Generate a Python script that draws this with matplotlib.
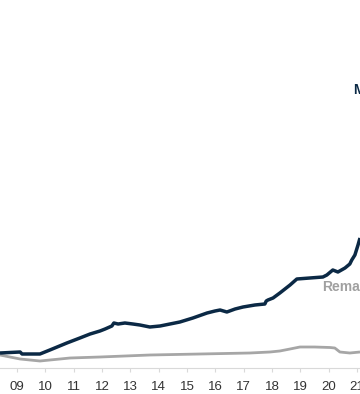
import matplotlib
matplotlib.use("Agg")
import matplotlib.pyplot as plt

plt.rcParams["font.family"] = ["Liberation Sans", "DejaVu Sans"]

# ----------------------------------------------------------------------------
# Data (x in years, y in arbitrary units)
# ----------------------------------------------------------------------------

NAVY_YEARS = [2008.40, 2009.11, 2009.18, 2009.81, 2010.16, 2010.76, 2011.22,
              2011.58, 2011.93, 2012.11, 2012.35, 2012.42, 2012.57, 2012.81,
              2013.09, 2013.34, 2013.69, 2014.05, 2014.40, 2014.75, 2015.21,
              2015.71, 2015.99, 2016.17, 2016.41, 2016.70, 2016.98, 2017.40,
              2017.75, 2017.80, 2017.86, 2018.04, 2018.28, 2018.64, 2018.88,
              2019.34, 2019.80, 2019.94, 2020.15, 2020.33, 2020.58, 2020.75,
              2020.82, 2020.93, 2021.04, 2021.11]
NAVY_VALUES = [1.5, 1.6, 1.4, 1.4, 1.8, 2.5, 3.0,
               3.4, 3.7, 3.9, 4.2, 4.5, 4.4, 4.5,
               4.4, 4.3, 4.1, 4.2, 4.4, 4.6, 5.0,
               5.5, 5.7, 5.8, 5.6, 5.9, 6.1, 6.3,
               6.4, 6.7, 6.8, 7.0, 7.5, 8.3, 8.9,
               9.0, 9.1, 9.3, 9.8, 9.6, 10.0, 10.4,
               10.8, 11.3, 12.3, 13.0]

GRAY_YEARS = [2008.40, 2008.75, 2009.11, 2009.46, 2009.81, 2010.16, 2010.52,
              2010.87, 2011.93, 2013.69, 2015.46, 2017.22, 2017.93, 2018.28,
              2018.64, 2018.99, 2019.50, 2020.05, 2020.22, 2020.40, 2020.75,
              2021.11]
GRAY_VALUES = [1.3, 1.1, 0.9, 0.8, 0.7, 0.8, 0.9,
               1.0, 1.1, 1.3, 1.4, 1.5, 1.6, 1.7,
               1.9, 2.1, 2.1, 2.05, 2.0, 1.6, 1.5,
               1.6]

TICK_YEARS = list(range(2009, 2022))
TICK_LABELS = [f"{y % 100:02d}" for y in TICK_YEARS]

NAVY = "#0b2945"
GRAY = "#a6a6a6"

# ----------------------------------------------------------------------------
# Plot
# ----------------------------------------------------------------------------

fig = plt.figure(figsize=(3.6, 3.94), dpi=100)
ax = fig.add_axes([0, 26 / 394, 1, 1 - 26 / 394])

ax.plot(GRAY_YEARS, GRAY_VALUES, color=GRAY, linewidth=2.0,
        solid_capstyle="butt")
ax.plot(NAVY_YEARS, NAVY_VALUES, color=NAVY, linewidth=2.5,
        solid_capstyle="butt")

ax.text(2020.86, 27.8, "M", color=NAVY, fontsize=10, fontweight="bold",
        ha="left", va="center")
ax.text(2019.77, 8.1, "Rema", color="#a0a0a0", fontsize=10,
        fontweight="bold", ha="left", va="center")

ax.set_xlim(2008.40, 2021.11)
ax.set_ylim(0, 36.8)
ax.set_xticks(TICK_YEARS)
ax.set_xticklabels(TICK_LABELS)
ax.set_yticks([])

for side in ["left", "right", "top"]:
    ax.spines[side].set_visible(False)
ax.spines["bottom"].set_color("#d9d9d9")
ax.spines["bottom"].set_linewidth(0.8)
ax.tick_params(axis="x", length=3, width=0.8, color="#d9d9d9",
               labelsize=9.5, labelcolor="#333333", pad=6)

fig.savefig("out.png", dpi=100)
